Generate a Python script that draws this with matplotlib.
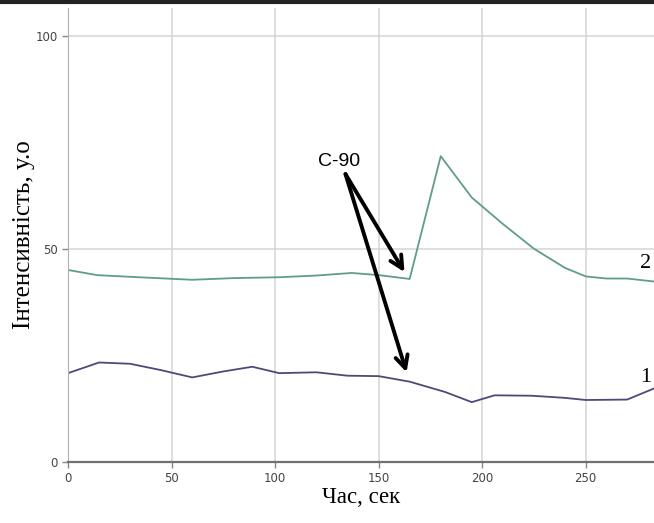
import matplotlib.pyplot as plt
from matplotlib.lines import Line2D

# Дані
time_2 = [0, 14, 30, 60, 80, 102, 120, 137, 150, 165, 180, 195, 210, 225, 240, 250, 260, 270, 283]
intens_2 = [45.0, 43.8, 43.4, 42.7, 43.1, 43.3, 43.7, 44.3, 43.8, 42.9, 71.7, 62.0, 55.8, 50.0, 45.5, 43.5, 43.0, 43.0, 42.3]

time_1 = [0, 15, 30, 45, 60, 75, 89, 102, 120, 135, 150, 165, 182, 195, 206, 224, 240, 250, 270, 283]
intens_1 = [20.8, 23.3, 23.0, 21.5, 19.8, 21.2, 22.3, 20.8, 21.0, 20.2, 20.1, 18.8, 16.4, 14.0, 15.6, 15.5, 15.0, 14.5, 14.6, 17.2]

label_pos = {'2': (279, 46.5), '1': (279, 19.8)}
arrow_start = (134, 67.5)
arrow_ends = [(162.5, 44.5), (163.5, 21.0)]

fig = plt.figure(figsize=(6.54, 5.23), dpi=100)
ax = fig.add_axes([0.104, 0.117, 0.896, 0.868])

ax.plot(time_2, intens_2, color='#5f9c8e', lw=1.3)
ax.plot(time_1, intens_1, color='#4d4a78', lw=1.3)

ax.set_xlim(0, 283)
ax.set_ylim(0, 106.5)
ax.set_xticks([0, 50, 100, 150, 200, 250])
ax.set_yticks([0, 50, 100])
ax.grid(True, color='#d4d4d4', lw=1.1)
ax.set_axisbelow(True)

for s in ['top', 'right']:
    ax.spines[s].set_visible(False)
ax.spines['left'].set_color('#b0b0b0')
ax.spines['bottom'].set_color('#707070')
ax.spines['bottom'].set_linewidth(1.6)
ax.tick_params(labelsize=8.5, colors='#444444', length=4, width=1)
ax.tick_params(axis='x', color='#888888')
ax.tick_params(axis='y', color='#888888')

ax.set_xlabel('Час, сек', family='Liberation Serif', fontsize=16.5, labelpad=1)
ax.set_ylabel('Інтенсивність, у.о', family='Liberation Serif', fontsize=18, labelpad=0)

for txt, (x, y) in label_pos.items():
    ax.text(x, y, txt, family='Liberation Serif', fontsize=16, ha='center', va='center')

ax.text(131, 70.5, 'С-90', family='Liberation Sans', fontsize=14, ha='center', va='center')
for end in arrow_ends:
    ax.annotate('', xy=end, xytext=arrow_start,
                arrowprops=dict(arrowstyle='->,head_length=0.9,head_width=0.45',
                                color='black', lw=2.8, shrinkA=0, shrinkB=0))

# темна смуга зверху, як на оригіналі
fig.add_artist(Line2D([0, 1], [0.997, 0.997], color='#222222', lw=3, transform=fig.transFigure))

fig.savefig('out.png', dpi=100)
